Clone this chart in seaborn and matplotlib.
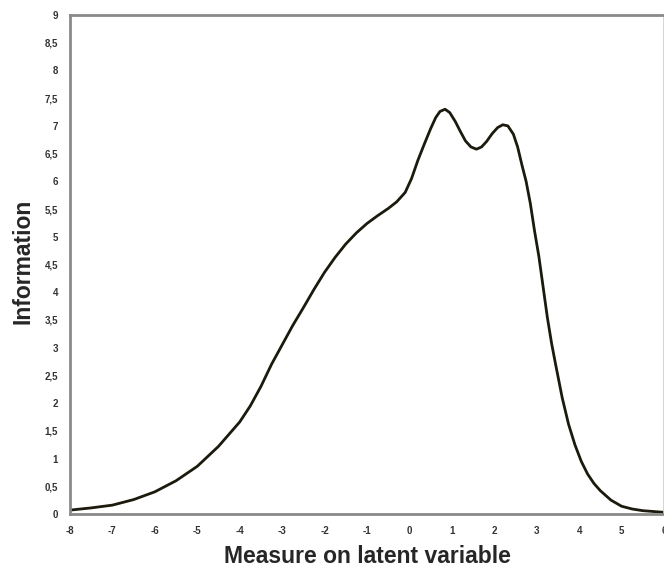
import numpy as np
import pandas as pd
import matplotlib.pyplot as plt
import seaborn as sns

# values
theta = [-8, -7.5, -7, -6.5, -6, -5.5, -5, -4.5, -4, -3.75, -3.5, -3.25, -3.0, -2.75, -2.5,
         -2.25, -2.0, -1.75, -1.5, -1.25, -1.0, -0.75, -0.5, -0.3, -0.1, 0.05, 0.2, 0.35,
         0.5, 0.62, 0.72, 0.84, 0.95, 1.08, 1.2, 1.32, 1.45, 1.58, 1.7, 1.82, 1.95, 2.08,
         2.2, 2.32, 2.45, 2.55, 2.65, 2.75, 2.85, 2.95, 3.05, 3.15, 3.25, 3.35, 3.45, 3.6,
         3.75, 3.9, 4.05, 4.2, 4.35, 4.5, 4.75, 5.0, 5.25, 5.5, 6.0]
information = [0.07, 0.11, 0.16, 0.26, 0.40, 0.60, 0.86, 1.22, 1.66, 1.95, 2.3, 2.7, 3.05,
               3.4, 3.72, 4.05, 4.36, 4.63, 4.87, 5.07, 5.24, 5.38, 5.51, 5.63, 5.8, 6.05,
               6.38, 6.67, 6.95, 7.15, 7.26, 7.3, 7.24, 7.08, 6.9, 6.73, 6.62, 6.58, 6.62,
               6.72, 6.86, 6.97, 7.02, 7.0, 6.85, 6.62, 6.3, 6.0, 5.6, 5.1, 4.65, 4.1, 3.55,
               3.08, 2.68, 2.1, 1.62, 1.25, 0.95, 0.72, 0.55, 0.42, 0.25, 0.14, 0.09, 0.06,
               0.03]

x_ticks = list(range(-8, 7))
y_ticks = [i * 0.5 for i in range(19)]
y_tick_labels = [f"{v:g}".replace(".", ",") for v in y_ticks]

df = pd.DataFrame({"theta": theta, "info": information})

sns.set_style("white")
plt.rcParams["font.family"] = ["Liberation Sans", "DejaVu Sans"]

fig = plt.figure(figsize=(6.64, 5.72), dpi=100)
ax = fig.add_axes([0.1054, 0.1014, 0.8946, 0.8724])

sns.lineplot(data=df, x="theta", y="info", ax=ax, color="#1c1a0c", linewidth=2.0)
for ln in ax.lines:
    ln.set_solid_joinstyle("round")
    ln.set_solid_capstyle("round")

ax.set_xlim(-8, 6)
ax.set_ylim(0, 9)
ax.set_xticks(x_ticks)
ax.set_xticklabels([str(t) for t in x_ticks], fontsize=7, color="#333333", fontweight="bold")
ax.set_yticks(y_ticks)
ax.set_yticklabels(y_tick_labels, fontsize=7, color="#333333", fontweight="bold")
ax.tick_params(axis="both", direction="inout", length=7, width=1.3, color="#555555", pad=5)

for side in ["left", "bottom", "top", "right"]:
    ax.spines[side].set_color("#8a8a8a")
    ax.spines[side].set_linewidth(2.0)
ax.spines["right"].set_color("#d0d0d0")

ax.set_xlabel("Measure on latent variable", fontsize=16.5, fontweight="bold")
ax.set_ylabel("Information", fontsize=16.5, fontweight="bold")
ax.xaxis.label.set_va("center")
ax.yaxis.label.set_va("center")
ax.xaxis.set_label_coords(0.50, -0.086)
ax.yaxis.set_label_coords(-0.079, 0.506)

plt.savefig("out.png", dpi=100)
